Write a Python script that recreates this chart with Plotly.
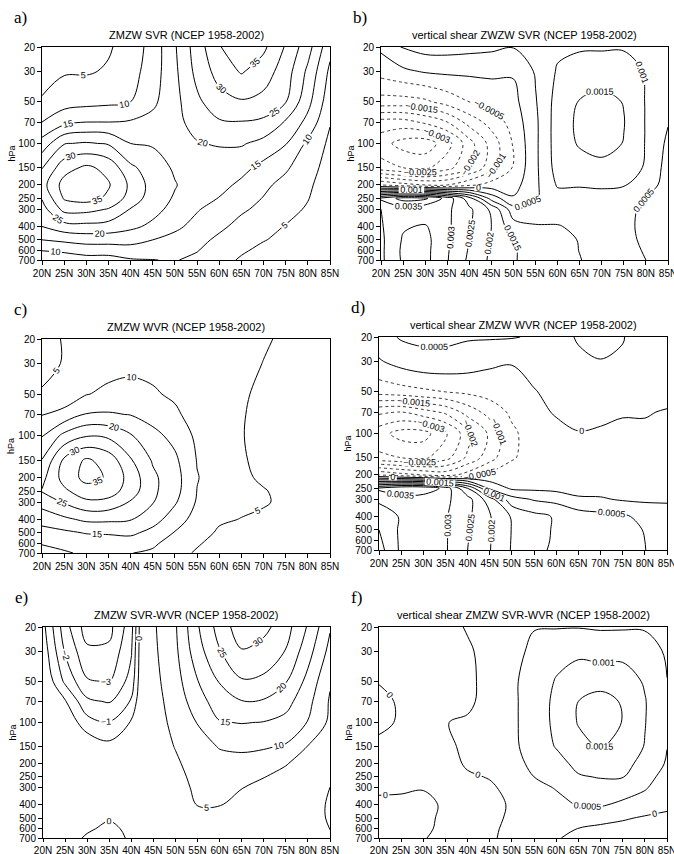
import numpy as np
import plotly.graph_objects as go

# ---------------- data ----------------
LATS = [20, 25, 30, 35, 40, 45, 50, 55, 60, 65, 70, 75, 80, 85]
LAT_LABELS = ["20N", "25N", "30N", "35N", "40N", "45N", "50N", "55N", "60N", "65N", "70N", "75N", "80N", "85N"]
PLEVS = [20, 30, 50, 70, 100, 150, 200, 250, 300, 400, 500, 600, 700]
P_LABELS = ["20", "30", "50", "70", "100", "150", "200", "250", "300", "400", "500", "600", "700"]

# one list per latitude (LATS order); values at PLEVS (top -> bottom), m/s
U_SVR = [
    [2, 3, 5.5, 10, 17, 24.8, 28, 25.3, 23, 20, 15, 10, 5],
    [2.5, 4.5, 8, 13.5, 24.7, 33, 37, 35.5, 31.5, 23, 16, 11, 6],
    [3, 4.5, 8.5, 15, 25.5, 36, 38.5, 37, 31.5, 23.5, 17, 12, 8],
    [4.5, 5.5, 9, 15, 24.5, 33.5, 35.5, 34, 29.7, 23, 17, 12, 8],
    [7, 8, 10, 15.5, 20, 26, 29, 28, 24.7, 21, 17, 12.5, 9.6],
    [12, 12.5, 14, 16.5, 19.5, 22.5, 23, 22.5, 21.5, 19, 15, 12, 9.9],
    [19.5, 19, 18.5, 18.5, 18.5, 19.3, 20.3, 19.5, 18.5, 15.8, 13.8, 11.8, 10.3],
    [27.5, 26.5, 24, 22, 19.7, 17.5, 17.5, 17.3, 15.3, 13.8, 11.5, 10.2, 8.8],
    [34.5, 32, 28, 24.5, 20.5, 17, 16.5, 14.8, 13.5, 11, 9, 7.5, 6.5],
    [40, 35.5, 29.5, 24.8, 20.5, 16.5, 14, 12, 10.7, 8.5, 7, 5.5, 4.5],
    [36, 32.5, 28.5, 24, 18.5, 13.5, 11, 9.8, 8.8, 6.5, 5.2, 4, 3],
    [29.5, 27.5, 25.2, 19.5, 15.3, 10.7, 8.5, 7.5, 6.5, 4.8, 4, 3, 2],
    [22, 19, 16.5, 13.5, 9, 7, 5.8, 5.2, 4.5, 3.5, 3, 2, 1],
    [11.5, 9, 7, 5.3, 4, 3, 2.5, 2.2, 2, 1.5, 1, 0.8, 0.5],
]

U_WVR = [
    [3.5, 4, 5.3, 9.8, 14.8, 20.2, 23.5, 25.3, 22, 17, 13, 10.2, 8.5],
    [5.3, 5.2, 7, 11.5, 21.5, 31, 32, 29, 25.5, 19, 14, 10.5, 9.8],
    [6.5, 7.5, 9.8, 15.3, 24.7, 35.8, 36.5, 33, 29, 21, 15.3, 12, 10.3],
    [7.5, 8.3, 11, 15.5, 24, 33, 34.5, 32.5, 28.5, 21, 15.5, 12.5, 10.5],
    [8, 8.8, 11.5, 14.8, 20.5, 25.5, 28, 27.5, 24.6, 20.3, 16, 12.5, 10.1],
    [8, 8.8, 10.5, 13, 16.5, 19.5, 21, 21, 20.3, 17, 13.5, 10.7, 9.3],
    [7, 7.8, 9.3, 10.8, 13.5, 16, 17, 16.8, 15.6, 12.5, 9.7, 8, 6.5],
    [7, 7, 7.5, 8, 9, 9.8, 10.2, 9.9, 9.5, 8, 6.5, 5.4, 4.5],
    [7, 6.8, 6.8, 7, 7.5, 8, 8, 7.5, 7, 5.5, 4.5, 3.5, 3],
    [7, 6.3, 5.5, 5.3, 5.2, 5.4, 5.6, 6, 5.8, 4.9, 3.8, 3, 2.5],
    [5.5, 4.9, 4.2, 3.8, 3.7, 4, 4.5, 5.2, 5.4, 4.2, 3.2, 2.5, 2],
    [4.3, 3.8, 3.3, 3, 3, 3.3, 3.8, 4.2, 4.2, 3.5, 2.8, 2.2, 1.8],
    [3.5, 3, 2.5, 2.2, 2.2, 2.5, 3, 3.2, 3.2, 2.8, 2.2, 1.8, 1.5],
    [2.5, 2, 1.5, 1.3, 1.3, 1.6, 2, 2.2, 2.2, 2, 1.6, 1.3, 1],
]

U_DIFF = [
    [0.3, 0.6, 1, 1.5, 2, 2, 1.5, 1, 1, 1, 1, 1, 1],
    [-2.6, -2.1, -1.2, 0.1, 0.8, 1.3, 1.3, 1, 1, 1, 1, 1, 1],
    [-4.5, -3.8, -2.9, -1.8, -0.6, 0.8, 1.3, 1.3, 1.2, 1, 0.6, 0.3, -0.3],
    [-4.3, -3.8, -3.05, -2.1, -0.95, 0.3, 1, 1.2, 1, 0.7, 0.2, -0.5, -0.8],
    [-2.4, -2.1, -1.6, -0.9, 0.1, 0.8, 1.2, 1.3, 1.2, 1, 0.8, 0.5, 0.3],
    [4.3, 4, 3.5, 3, 2.8, 2.5, 2, 1.8, 1.7, 1.6, 1.3, 1.2, 1],
    [9.5, 9, 8, 7.3, 6.3, 5.2, 4.3, 3.5, 3, 2.5, 2.3, 2, 1.8],
    [19.5, 18, 14.8, 12.5, 10.2, 8, 7, 6.5, 6, 5.1, 4.2, 3.5, 3],
    [27, 24.7, 20.3, 18, 14.7, 10.3, 8.3, 7.5, 6.5, 5.1, 4.3, 3.8, 3.5],
    [33, 29.7, 24.5, 19.8, 15.2, 10.8, 8.5, 6.5, 5.1, 3.8, 3.2, 2.7, 2],
    [31.5, 28, 24, 19.5, 14.8, 10.5, 7.5, 5.1, 4, 3, 2.3, 1.8, 1.3],
    [27, 24.8, 20.3, 16.8, 13.5, 9.5, 5.2, 4, 3, 2.5, 2, 1.5, 1.2],
    [19.5, 17, 13.5, 11.5, 9.8, 4.8, 3.5, 3, 2.6, 2.2, 2, 1.5, 1.5],
    [10.5, 8.5, 5.5, 4.5, 4, 3.5, 3, 1.8, -0.1, -0.6, -0.5, -0.1, 1],
]

# vertical shear fields, in units of 1e-4 1/s
SHEAR_UNIT = 1e-4
SHEAR_SVR = [
    [1, -3, -12, -27, -33, -28, -5, 36, 30, 29.5, 29, 29, 29],
    [5.5, -1, -12, -27, -37, -30, -8, 42, 33, 34.5, 35.5, 36, 35.8],
    [7, 0.5, -11, -24, -38, -31, -10, 41, 31, 35.5, 36.5, 36.5, 36.5],
    [7, 1, -8, -20, -32, -27, -10, 33, 31, 31, 31, 30.5, 30.3],
    [6.5, 1, -5, -13, -22, -20, -6, 22, 26, 25.5, 25, 24.5, 24],
    [6, 1, -3, -8, -13, -12, -3, 8, 19, 20, 19.5, 19.2, 19],
    [5.2, 0.5, -1.5, -3, -4.5, -4.5, -2, 0.5, 7, 12, 15.2, 15.5, 15.5],
    [6, 5.5, 4.6, 4, 4, 4, 4, 4.5, 6.5, 10.5, 12.5, 12.5, 12.5],
    [9, 10.5, 12, 12.5, 12.5, 12, 10.5, 8, 7.5, 10.3, 12, 12, 12],
    [9.5, 12, 15.3, 16, 15.5, 13, 10.3, 8.5, 8, 9, 9.7, 9.9, 10.2],
    [9.5, 12.5, 16.5, 18, 17, 13.5, 10.8, 8, 7, 7, 7.5, 8, 8],
    [9.5, 12.5, 14.8, 15.2, 14.8, 12.5, 10.3, 7.5, 6.5, 6, 6.5, 7, 7],
    [8.5, 9.5, 9.7, 9.7, 9.7, 9.5, 8, 4.8, 4, 4, 4, 4.5, 5],
    [7, 7, 6.5, 5.3, 4, 3, 2.5, 2.5, 2.5, 2.5, 2.5, 2.5, 2.5],
]

SHEAR_WVR = [
    [3, -0.5, -8, -24, -33, -29, -5, 36, 31, 27, 25, 24, 23],
    [5.5, 2, -7, -25, -37, -30, -8, 40, 32, 30.5, 31, 31, 31],
    [6, 3.5, -6, -22, -37, -31, -10, 40, 31, 34, 33, 32, 31.5],
    [6, 3.5, -5, -19, -31, -27, -12, 33, 31, 30.5, 30.5, 30.5, 30.5],
    [5.5, 2.5, -4, -13, -22, -19, -8, 20, 27, 26, 25.5, 25.2, 25],
    [5.5, 1, -3, -8, -14, -12, -4, 4, 17, 20.5, 20.5, 20.3, 20.2],
    [5.3, 0.3, -2, -4, -6, -5.5, -2.5, -0.8, 7, 14.5, 14.8, 14.7, 14.6],
    [4.5, 2, -0.3, -1.5, -2.5, -3, -3.5, -1, 4.5, 11.5, 11.5, 11.2, 11],
    [3, 2, 1.5, 0.5, -1.5, -2.5, -3, -1.5, 3.5, 9.5, 9.5, 9.5, 9.3],
    [5.5, 4, 2.5, 1.5, -0.2, -2, -2.5, -2, 0.8, 7.5, 8, 8, 8],
    [7, 4.8, 2, 1, -0.5, -1.5, -2, -1.8, 0.5, 6.5, 7, 7, 7],
    [5.2, 4.5, 2.5, 0.3, -0.8, -1.5, -2, -2, -0.5, 5.8, 6.5, 6.7, 6.8],
    [3, 3, 2, 0.2, -0.5, -1.2, -1.5, -1.5, -0.8, 3.5, 4.8, 5, 5.1],
    [2, 2, 1, -0.2, -0.3, -0.8, -1, -1, -0.3, 1, 2, 2.5, 2.8],
]

SHEAR_DIFF = [
    [-1.5, -1, -0.2, 1, 1, -1, -1.5, -1.5, -0.8, 1, 2, 2.5, 3],
    [-2, -1.5, -1, -0.5, -0.5, -1.5, -2, -2, -0.7, 1.2, 2, 2.5, 2.5],
    [-2.5, -2, -1.5, -1.2, -1, -1.5, -2, -2, -0.3, 1.5, 1.2, 0.8, 0.2],
    [-2, -1.8, -1.5, -1, -0.1, -1, -1.5, -1.5, -1.2, -0.8, -1, -1, -1],
    [0.5, -0.8, -1, -0.8, 0.5, 1, 0.5, -0.5, -1, -1, -1, -0.8, -0.8],
    [2, 2, 1.5, 1.5, 1.5, 1.5, 1, 0.2, -0.5, -0.8, -0.8, -0.6, -0.5],
    [3, 3.5, 4, 4, 4, 4, 3.5, 2.5, 1, 0.3, 0.5, 0.8, 1],
    [4.8, 6, 7.5, 7.5, 7.5, 7, 6, 5, 3.5, 2, 1.5, 1, 0.5],
    [4.7, 8.5, 10.3, 11, 11, 10.3, 8, 6.5, 5.3, 3.5, 2, 1, 0.3],
    [4.8, 9, 12.5, 15, 15.3, 13.5, 11.5, 9.5, 8, 5.3, 2, -0.1, -1],
    [4.5, 8, 13, 17, 18, 15.5, 12.5, 10.3, 8, 5.5, 1.5, -1, -2],
    [4.5, 8.5, 12.5, 14.5, 14.8, 13, 11.5, 10.2, 7.5, 4, 0.5, -1.5, -2],
    [4.5, 7.5, 9.5, 10.3, 10.2, 9.8, 8.5, 7, 5.5, 2.5, -0.5, -1.5, -2],
    [3.5, 4.3, 5.1, 5.3, 5.3, 5.1, 4.5, 3, 2, 0.8, -0.8, -1.5, -2],
]

TITLES = [
    "ZMZW SVR (NCEP 1958-2002)",
    "vertical shear ZWZW SVR (NCEP 1958-2002)",
    "ZMZW WVR (NCEP 1958-2002)",
    "vertical shear ZMZW WVR (NCEP 1958-2002)",
    "ZMZW SVR-WVR (NCEP 1958-2002)",
    "vertical shear ZMZW SVR-WVR (NCEP 1958-2002)",
]
LETTERS = ["a)", "b)", "c)", "d)", "e)", "f)"]

# ---------------- figure ----------------
W, H = 674, 854
FONT = "Liberation Sans"
SERIF = "Liberation Serif"

# pixel boxes (left, right, top, bottom) of each plot area
BOXES = [
    (42, 330, 47, 260),
    (381, 668, 47, 260),
    (42, 330, 339, 553),
    (379, 667, 337, 550),
    (43, 330, 627, 838),
    (379, 667, 627, 838),
]

ylog = np.log10(PLEVS)
fig = go.Figure()


def add_set(k, z, start, end, size, dash="solid", width=1.0, fmt=".0f", color="black"):
    ax = "" if k == 1 else str(k)
    fig.add_trace(go.Contour(
        x=LATS, y=ylog, z=z,
        xaxis="x" + ax, yaxis="y" + ax,
        autocontour=False,
        contours=dict(start=start, end=end, size=size, coloring="none",
                      showlabels=True, labelformat=fmt,
                      labelfont=dict(family=FONT, size=9, color="black")),
        line=dict(color=color, width=width, dash=dash, smoothing=1.0),
        showscale=False, hoverinfo="skip",
    ))


za = np.array(U_SVR, dtype=float).T
zc = np.array(U_WVR, dtype=float).T
ze = np.array(U_DIFF, dtype=float).T
zb = np.array(SHEAR_SVR, dtype=float).T * SHEAR_UNIT
zd = np.array(SHEAR_WVR, dtype=float).T * SHEAR_UNIT
zf = np.array(SHEAR_DIFF, dtype=float).T * SHEAR_UNIT

add_set(1, za, 5, 40, 5)
add_set(3, zc, 5, 40, 5)
add_set(5, ze, -4, 0, 1)
add_set(5, ze, 5, 35, 5)
for k, z in [(2, zb), (4, zd), (6, zf)]:
    add_set(k, z, -0.004, -0.0005, 0.0005, dash="dot", width=0.9, fmt=".4~f", color="#222")
    add_set(k, z, 0, 0.0045, 0.0005, fmt=".4~f")

layout = dict(width=W, height=H, margin=dict(l=0, r=0, t=0, b=0, autoexpand=False),
              paper_bgcolor="white", plot_bgcolor="white", showlegend=False)
annotations = []
for i, (l, r, t, b) in enumerate(BOXES):
    k = i + 1
    ax = "" if k == 1 else str(k)
    common = dict(tickcolor="black", tickwidth=1, ticks="outside",
                  showline=True, mirror=True, linecolor="black", linewidth=1,
                  showgrid=False, zeroline=False, ticklabeloverflow="allow",
                  tickfont=dict(family=FONT, size=10, color="black"))
    layout["xaxis" + ax] = dict(domain=[l / W, r / W], range=[20, 85],
                                tickmode="array", tickvals=LATS, ticktext=LAT_LABELS,
                                ticklen=3 if k >= 5 else 4,
                                anchor="y" + ax, **common)
    layout["yaxis" + ax] = dict(domain=[1 - b / H, 1 - t / H],
                                range=[np.log10(700), np.log10(20)],
                                tickmode="array", tickvals=list(ylog), ticktext=P_LABELS,
                                ticklen=4, anchor="x" + ax, **common)
    cx = (l + r) / 2
    annotations.append(dict(text=TITLES[i], x=cx / W, y=1 - (t - 12) / H,
                            xref="paper", yref="paper", showarrow=False,
                            font=dict(family=FONT, size=11, color="black"),
                            xanchor="center", yanchor="middle"))
    annotations.append(dict(text=LETTERS[i], x=(l - 30) / W, y=1 - (t - 30) / H,
                            xref="paper", yref="paper", showarrow=False,
                            font=dict(family=SERIF, size=17, color="black"),
                            xanchor="left", yanchor="middle"))
    annotations.append(dict(text="hPa", x=(l - 31) / W, y=1 - ((t + b) / 2) / H,
                            xref="paper", yref="paper", showarrow=False, textangle=-90,
                            font=dict(family=FONT, size=9, color="black"),
                            xanchor="center", yanchor="middle"))
layout["annotations"] = annotations
fig.update_layout(**layout)
fig.write_html("out.html", config={"displayModeBar": False},
               post_script="document.body.style.margin='0px';document.body.style.overflow='hidden';")
